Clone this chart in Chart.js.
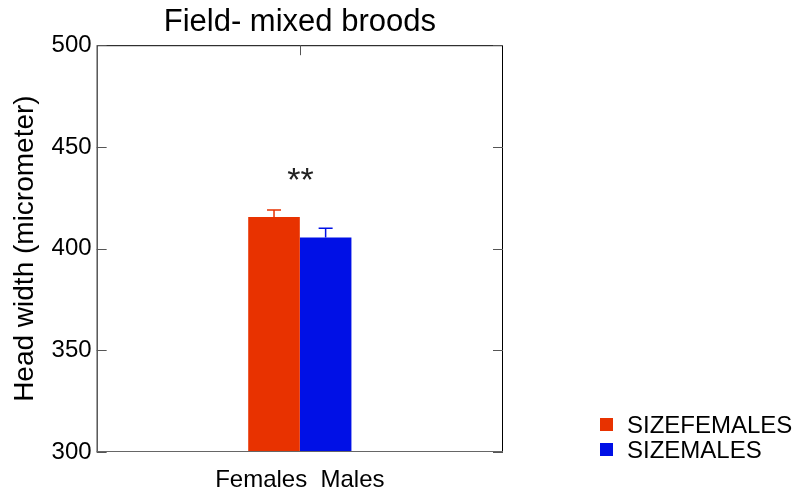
<!DOCTYPE html>
<html>
<head>
<meta charset="utf-8">
<script src="https://cdn.jsdelivr.net/npm/chart.js@4/dist/chart.umd.min.js"></script>
<style>
html,body{margin:0;padding:0;background:#fff;}
#wrap{width:804px;height:493px;position:relative;}
</style>
</head>
<body>
<div id="wrap"><canvas id="c" width="804" height="493"></canvas></div>
<script>
const categories = ['Females  Males'];
const seriesNames = ['SIZEFEMALES', 'SIZEMALES'];
const femaleValues = [415.5];
const maleValues = [405.5];
const femaleErrors = [3.5];
const maleErrors = [4.5];
const yTicks = [300, 350, 400, 450, 500];
const colors = ['#e83200', '#0010e6'];
const FONT = '"Liberation Sans", Arial, sans-serif';

const errs = [femaleErrors, maleErrors];

const decor = {
  id: 'decor',
  afterDatasetsDraw(chart) {
    const ctx = chart.ctx;
    const a = chart.chartArea;
    const y = chart.scales.y;
    const x = chart.scales.x;
    ctx.save();
    // error bars
    chart.data.datasets.forEach((ds, di) => {
      const meta = chart.getDatasetMeta(di);
      meta.data.forEach((bar, i) => {
        const v = ds.data[i];
        const top = y.getPixelForValue(v + errs[di][i]);
        const base = y.getPixelForValue(v);
        ctx.strokeStyle = colors[di];
        ctx.lineWidth = 1.5;
        ctx.beginPath();
        ctx.moveTo(bar.x, base);
        ctx.lineTo(bar.x, top);
        ctx.moveTo(bar.x - 7, top);
        ctx.lineTo(bar.x + 7, top);
        ctx.stroke();
      });
    });
    // frame
    ctx.lineWidth = 1;
    ctx.strokeStyle = '#000';
    ctx.beginPath();
    ctx.moveTo(a.left + 0.5, a.bottom);
    ctx.lineTo(a.left + 0.5, a.top + 0.5);
    ctx.lineTo(a.right - 0.5, a.top + 0.5);
    ctx.lineTo(a.right - 0.5, a.bottom);
    ctx.stroke();
    ctx.strokeStyle = '#666';
    ctx.beginPath();
    ctx.moveTo(a.left, a.bottom - 0.5);
    ctx.lineTo(a.right, a.bottom - 0.5);
    ctx.stroke();
    // inward ticks
    ctx.strokeStyle = '#555';
    yTicks.forEach(t => {
      const py = Math.round(y.getPixelForValue(t)) + 0.5;
      ctx.beginPath();
      ctx.moveTo(a.left, py); ctx.lineTo(a.left + 10, py);
      ctx.moveTo(a.right, py); ctx.lineTo(a.right - 10, py);
      ctx.stroke();
    });
    const cx = Math.round(x.getPixelForValue(0)) + 0.5;
    ctx.beginPath();
    ctx.moveTo(cx, a.top); ctx.lineTo(cx, a.top + 10);
    ctx.stroke();
    // category label
    ctx.fillStyle = '#000';
    ctx.font = '24px ' + FONT;
    ctx.textAlign = 'center';
    ctx.textBaseline = 'middle';
    categories.forEach((c, i) => {
      ctx.fillText(c, x.getPixelForValue(i), a.bottom + 28);
    });
    // significance
    ctx.fillStyle = '#222';
    ctx.font = '34px ' + FONT;
    ctx.fillText('**', cx, y.getPixelForValue(433));
    // legend
    ctx.font = '24px ' + FONT;
    ctx.textAlign = 'left';
    seriesNames.forEach((n, i) => {
      const ly = 425 + i * 25;
      ctx.fillStyle = colors[i];
      ctx.fillRect(600, ly - 7, 13, 13);
      ctx.fillStyle = '#000';
      ctx.fillText(n, 627, ly + 1);
    });
    ctx.restore();
  }
};

new Chart(document.getElementById('c'), {
  type: 'bar',
  data: {
    labels: categories,
    datasets: [
      { label: seriesNames[0], data: femaleValues, backgroundColor: colors[0], borderWidth: 0 },
      { label: seriesNames[1], data: maleValues, backgroundColor: colors[1], borderWidth: 0 }
    ]
  },
  options: {
    responsive: false,
    animation: false,
    layout: { padding: { left: 8, right: 301, top: 4, bottom: 41 } },
    plugins: {
      legend: { display: false },
      tooltip: { enabled: false },
      title: {
        display: true, fullSize: false,
        text: 'Field- mixed broods',
        color: '#000',
        font: { family: FONT, size: 31, weight: 'normal' },
        padding: { top: 0, bottom: 4 }
      }
    },
    datasets: { bar: { categoryPercentage: 0.254, barPercentage: 1.0 } },
    scales: {
      x: {
        grid: { display: false, drawTicks: false },
        border: { display: false },
        ticks: { display: false }
      },
      y: {
        min: 300, max: 500,
        afterBuildTicks: s => { s.ticks = yTicks.map(v => ({ value: v })); },
        grid: { display: false, drawTicks: false },
        border: { display: false },
        ticks: { color: '#000', font: { family: FONT, size: 24 }, padding: 5 },
        title: {
          display: true, text: 'Head width (micrometer)', color: '#000',
          font: { family: FONT, size: 28 }, padding: { top: 0, bottom: 5 }
        }
      }
    }
  },
  plugins: [decor]
});
</script>
</body>
</html>
